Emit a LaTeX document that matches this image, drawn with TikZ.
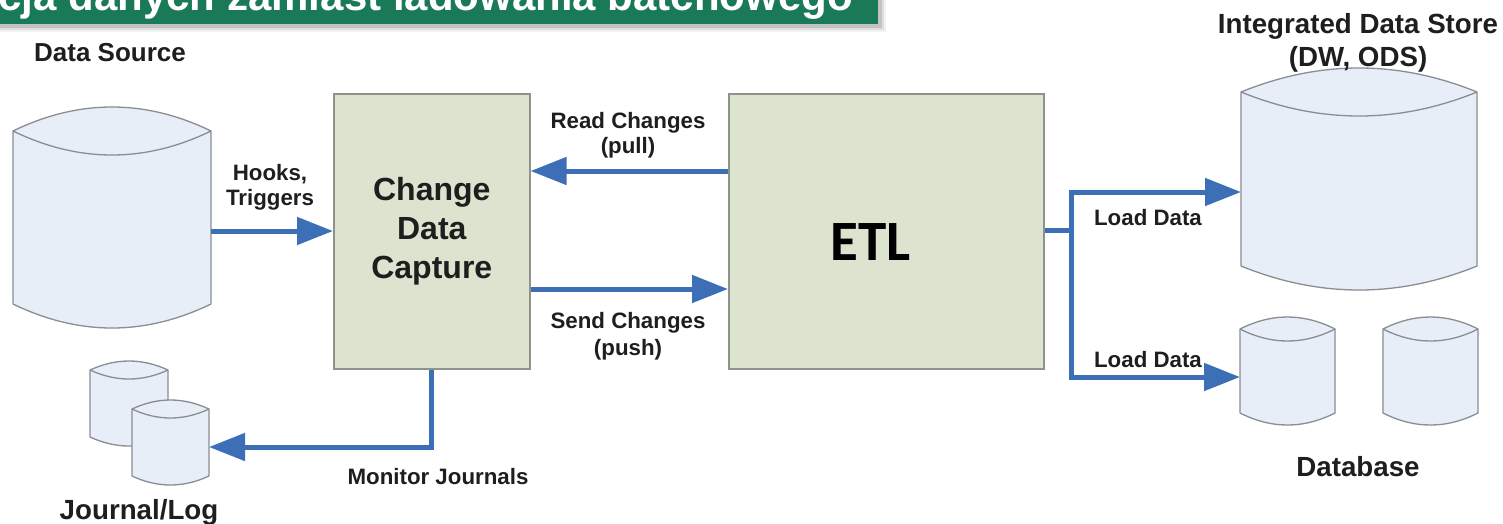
\documentclass[tikz,border=0pt]{standalone}
\usepackage{fontspec}
\setmainfont{Liberation Sans}
\newfontfamily\etlfont{Carlito}
\usetikzlibrary{arrows.meta}

\definecolor{flowblue}{HTML}{3C6FB6}
\definecolor{boxfill}{HTML}{DCE3CF}
\definecolor{boxline}{HTML}{8E948A}
\definecolor{drumfill}{HTML}{E7EEF7}
\definecolor{drumline}{HTML}{8A8D92}
\definecolor{bannergreen}{HTML}{1A7A58}
\definecolor{ink}{HTML}{1E1E1E}

\tikzset{
  flow/.style={draw=flowblue, line width=5pt, -{Triangle[length=36pt,width=27pt]}},
  link/.style={draw=flowblue, line width=5pt},
  stage/.style={draw=boxline, fill=boxfill, line width=1.6pt, inner sep=0pt, anchor=north west},
  drumbox/.style={inner sep=0pt, outer sep=0pt},
  drumstyle/.style={draw=drumline, fill=drumfill, line width=1.3pt, line join=round},
  small/.style={font=\bfseries\fontsize{22.3}{25}\selectfont, text=ink, align=center, inner sep=0pt},
  big/.style={font=\bfseries\fontsize{27.7}{33}\selectfont, text=ink, align=center, inner sep=0pt},
}

% database drum: name, left x, top y, right x, bottom y, curve depth
\newcommand\dbdrum[6]{%
  \pgfmathsetmacro\dw{(#4-#2)/3}%
  \pgfmathsetmacro\dk{#6/3}%
  \node[drumbox, minimum width={#4-#2}, minimum height={#5-#3}, anchor=north west] (#1) at (#2,#3) {};
  \filldraw[drumstyle] (#2,#3+#6) .. controls (#2+\dw,#3-\dk) and (#4-\dw,#3-\dk) .. (#4,#3+#6)
    -- (#4,#5-#6) .. controls (#4-\dw,#5+\dk) and (#2+\dw,#5+\dk) .. (#2,#5-#6) -- cycle;
  \draw[drumstyle, fill=none] (#2,#3+#6) .. controls (#2+\dw,#3+#6+4*\dk) and (#4-\dw,#3+#6+4*\dk) .. (#4,#3+#6);
}

\begin{document}
\begin{tikzpicture}[x=1pt,y=-1pt]
\useasboundingbox (0,0) rectangle (1503,523);
\fill[white] (0,0) rectangle (1503,523);

% title banner with soft shadow
\foreach \o/\a in {8/0.05,6/0.08,4/0.12}
  \fill[black, opacity=\a] (0,-5) rectangle (878+\o,24+\o);
\fill[bannergreen] (0,-5) rectangle (878,24);
\begin{scope}
  \clip (0,-5) rectangle (878,24);
  \node[anchor=base east, text=white, inner sep=0pt,
        font=\bfseries\fontsize{42}{48}\selectfont] (title) at (853,10)
        {cja danych zamiast ładowania batchowego};
\end{scope}

% stores
\dbdrum{src}{13}{107}{211}{328}{24}
\dbdrum{jback}{90}{361}{168}{446}{9}
\dbdrum{jlog}{132}{400}{209}{485}{9}
\dbdrum{ids}{1241}{68}{1477}{290}{24}
\dbdrum{dbA}{1240}{317}{1335}{425}{12}
\dbdrum{dbB}{1383}{317}{1478}{425}{12}

% processing stages
\node[stage, minimum width=196pt, minimum height=275pt, align=center,
      font=\bfseries\fontsize{32}{39}\selectfont, text=ink] (cdc) at (333,93)
      {Change\\Data\\Capture};
\node[stage, minimum width=315pt, minimum height=275pt] (etl) at (728,93) {};
\node[font=\etlfont\bfseries\fontsize{57}{60}\selectfont, text=black, inner sep=0pt]
      (etltxt) at (871,242) {ETL};

% connectors
\coordinate (hk) at (0,231);
\coordinate (rd) at (0,171);
\coordinate (sd) at (0,289);
\coordinate (mj) at (431,447);
\coordinate (split) at (1071,230);
\coordinate (upper) at (1071,192);
\coordinate (lower) at (1071,377);

\draw[flow] (src.east |- hk) -- (cdc.west |- hk);
\draw[flow] (etl.west |- rd) -- (cdc.east |- rd);
\draw[flow] (cdc.east |- sd) -- (etl.west |- sd);
\draw[flow] (cdc.south -| mj) |- (jlog.east |- mj);
\draw[link] (etl.east |- split) -- (split);
\draw[flow] (split) -- (upper) -- (ids.west |- upper);
\draw[flow] (split) -- (lower) -- (dbA.west |- lower);

% labels
\node[font=\bfseries\fontsize{26}{30}\selectfont, text=ink, inner sep=0pt] (srclbl) at (110,53) {Data Source};
\node[small] (hooks) at (270,187) {Hooks,\\Triggers};
\node[small] (readlbl) at (628,135) {Read Changes\\(pull)};
\node[small, font=\bfseries\fontsize{22.3}{27}\selectfont] (sendlbl) at (628,336) {Send Changes\\(push)};
\node[small] (monlbl) at (438,477) {Monitor Journals};
\node[big] (jlbl) at (139,512) {Journal/Log};
\node[big] (idslbl) at (1358,43) {Integrated Data Store\\(DW, ODS)};
\node[small] (load1) at (1148,218) {Load Data};
\node[small] (load2) at (1148,360) {Load Data};
\node[big] (dblbl) at (1358,467) {Database};
\end{tikzpicture}
\end{document}
